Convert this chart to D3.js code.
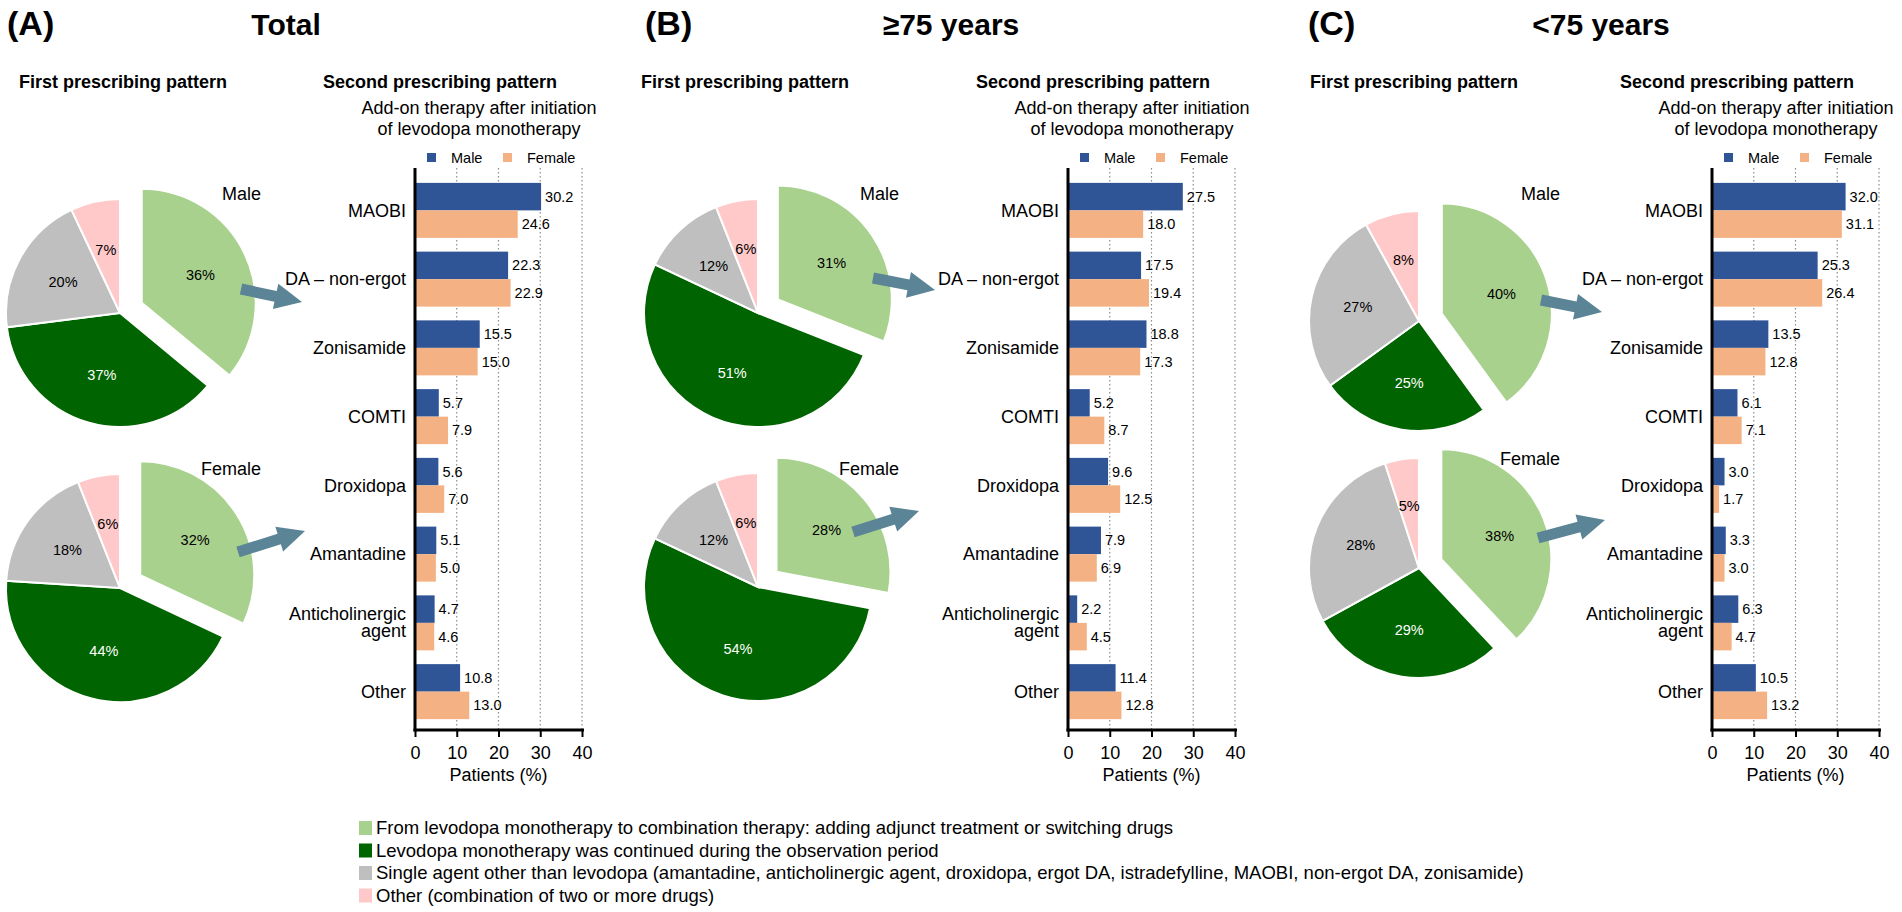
<!DOCTYPE html>
<html>
<head>
<meta charset="utf-8">
<script src="https://cdn.jsdelivr.net/npm/d3@7"></script>
<style>
  body { margin: 0; background: #fff; }
  svg { display: block; font-family: "Liberation Sans", Arial, sans-serif; }
</style>
</head>
<body>
<div id="chart"></div>
<script>
// ---- data ----
const categories = ["MAOBI", "DA – non-ergot", "Zonisamide", "COMTI", "Droxidopa",
  "Amantadine", "Anticholinergic agent", "Other"];
const sexes = ["Male", "Female"];

const totalMale = [30.2, 22.3, 15.5, 5.7, 5.6, 5.1, 4.7, 10.8];
const totalFemale = [24.6, 22.9, 15.0, 7.9, 7.0, 5.0, 4.6, 13.0];
const over75Male = [27.5, 17.5, 18.8, 5.2, 9.6, 7.9, 2.2, 11.4];
const over75Female = [18.0, 19.4, 17.3, 8.7, 12.5, 6.9, 4.5, 12.8];
const under75Male = [32.0, 25.3, 13.5, 6.1, 3.0, 3.3, 6.3, 10.5];
const under75Female = [31.1, 26.4, 12.8, 7.1, 1.7, 3.0, 4.7, 13.2];

// first pattern: combination, continued mono, single other agent, other
const pieTotalMale = [36, 37, 20, 7];
const pieTotalFemale = [32, 44, 18, 6];
const pieOver75Male = [31, 51, 12, 6];
const pieOver75Female = [28, 54, 12, 6];
const pieUnder75Male = [40, 25, 27, 8];
const pieUnder75Female = [38, 29, 28, 5];

const legendLabels = [
  "From levodopa monotherapy to combination therapy: adding adjunct treatment or switching drugs",
  "Levodopa monotherapy was continued during the observation period",
  "Single agent other than levodopa (amantadine, anticholinergic agent, droxidopa, ergot DA, istradefylline, MAOBI, non-ergot DA, zonisamide)",
  "Other (combination of two or more drugs)"
];
const xTicks = [0, 10, 20, 30, 40];
const panelLetters = ["(A)", "(B)", "(C)"];
const panelTitles = ["Total", "≥75 years", "<75 years"];

// ---- styles / layout ----
const pieColors = ["#a9d18e", "#006400", "#bfbfbf", "#ffc9c9"];
const barColors = { Male: "#2f5597", Female: "#f4b183" };
const arrowColor = "#5b8597";

const panels = [
  { letterX: 7, titleX: 286, subX: 123, cx: 120, cy: [313, 588], r: 114, sexY: [200, 475], axisX: 415,
    bars: [totalMale, totalFemale], pies: [pieTotalMale, pieTotalFemale],
    arrows: [[241, 289, 302, 302], [238, 552, 305, 531]] },
  { letterX: 645, titleX: 951, subX: 745, cx: 758, cy: [313, 587], r: 114, sexY: [200, 475], axisX: 1068,
    bars: [over75Male, over75Female], pies: [pieOver75Male, pieOver75Female],
    arrows: [[873, 278, 935, 290], [853, 532, 919, 511]] },
  { letterX: 1308, titleX: 1601, subX: 1414, cx: 1419, cy: [321, 568], r: 110, sexY: [200, 465], axisX: 1712,
    bars: [under75Male, under75Female], pies: [pieUnder75Male, pieUnder75Female],
    arrows: [[1541, 300, 1602, 312], [1538, 538, 1605, 520]] }
];

const width = 1902, height = 912;
const plotTop = 168, plotBottom = 730;

const svg = d3.select("#chart").append("svg")
  .attr("width", width)
  .attr("height", height);

svg.append("rect").attr("width", width).attr("height", height).attr("fill", "#fff");

function arrowPath(x1, y1, x2, y2) {
  const len = Math.hypot(x2 - x1, y2 - y1);
  const ux = (x2 - x1) / len, uy = (y2 - y1) / len;
  const nx = -uy, ny = ux;
  const headLen = 27, sw = 5.5, hw = 13;
  const bx = x2 - ux * headLen, by = y2 - uy * headLen;
  const p = d3.path();
  p.moveTo(x1 + nx * sw, y1 + ny * sw);
  p.lineTo(bx + nx * sw, by + ny * sw);
  p.lineTo(bx + nx * hw, by + ny * hw);
  p.lineTo(x2, y2);
  p.lineTo(bx - nx * hw, by - ny * hw);
  p.lineTo(bx - nx * sw, by - ny * sw);
  p.lineTo(x1 - nx * sw, y1 - ny * sw);
  p.closePath();
  return p.toString();
}

panels.forEach((pn, pi) => {
  const g = svg.append("g");

  // titles
  g.append("text").attr("x", pn.letterX).attr("y", 35)
    .attr("font-size", 34).attr("font-weight", "bold").text(panelLetters[pi]);
  g.append("text").attr("x", pn.titleX).attr("y", 35).attr("text-anchor", "middle")
    .attr("font-size", 30).attr("font-weight", "bold").text(panelTitles[pi]);
  g.append("text").attr("x", pn.subX).attr("y", 88).attr("text-anchor", "middle")
    .attr("font-size", 18).attr("font-weight", "bold").text("First prescribing pattern");
  g.append("text").attr("x", pn.axisX + 25).attr("y", 88).attr("text-anchor", "middle")
    .attr("font-size", 18).attr("font-weight", "bold").text("Second prescribing pattern");
  g.append("text").attr("x", pn.axisX + 64).attr("y", 114).attr("text-anchor", "middle")
    .attr("font-size", 18).text("Add-on therapy after initiation");
  g.append("text").attr("x", pn.axisX + 64).attr("y", 135).attr("text-anchor", "middle")
    .attr("font-size", 18).text("of levodopa monotherapy");

  // ---- pies ----
  const pie = d3.pie().sort(null).value(d => d);
  const arc = d3.arc().innerRadius(0).outerRadius(pn.r);
  const labelArc = d3.arc().innerRadius(pn.r * 0.57).outerRadius(pn.r * 0.57);

  pn.pies.forEach((vals, si) => {
    const pg = g.append("g").attr("transform", `translate(${pn.cx},${pn.cy[si]})`);
    const slices = pg.selectAll("g.slice").data(pie(vals)).enter().append("g")
      .attr("class", "slice")
      .attr("transform", (d, i) => {
        if (i !== 0) return null;
        const mid = (d.startAngle + d.endAngle) / 2;
        return `translate(${Math.sin(mid) * 24},${-Math.cos(mid) * 24})`;
      });
    slices.append("path")
      .attr("d", arc)
      .attr("fill", (d, i) => pieColors[i])
      .attr("stroke", "#fff")
      .attr("stroke-width", 2);
    slices.append("text")
      .attr("transform", d => `translate(${labelArc.centroid(d)})`)
      .attr("text-anchor", "middle")
      .attr("dominant-baseline", "central")
      .attr("font-size", 14.5)
      .attr("fill", (d, i) => i === 1 ? "#fff" : "#000")
      .text(d => d.data + "%");

    g.append("text").attr("x", pn.cx + 141).attr("y", pn.sexY[si])
      .attr("text-anchor", "end").attr("font-size", 18).text(sexes[si]);

    const a = pn.arrows[si];
    g.append("path").attr("d", arrowPath(a[0], a[1], a[2], a[3])).attr("fill", arrowColor);
  });

  // ---- bars ----
  const x = d3.scaleLinear().domain([0, 40]).range([pn.axisX, pn.axisX + 167]);
  const y = d3.scaleBand().domain(categories).range([176, 726]).paddingInner(0.2).paddingOuter(0.1);
  const ySub = d3.scaleBand().domain(sexes).range([0, y.bandwidth()]);

  // dotted grid
  g.append("g").selectAll("line").data(xTicks.filter(t => t > 0)).enter().append("line")
    .attr("x1", d => x(d)).attr("x2", d => x(d))
    .attr("y1", plotTop).attr("y2", plotBottom)
    .attr("stroke", "#8c8c8c").attr("stroke-width", 1.2)
    .attr("stroke-dasharray", "1.5,2.5");

  const rows = categories.map((c, i) => ({ cat: c, Male: pn.bars[0][i], Female: pn.bars[1][i] }));
  const rowG = g.append("g").selectAll("g").data(rows).enter().append("g")
    .attr("transform", d => `translate(0,${y(d.cat)})`);
  sexes.forEach(s => {
    rowG.append("rect")
      .attr("x", x(0))
      .attr("y", ySub(s))
      .attr("width", d => x(d[s]) - x(0))
      .attr("height", ySub.bandwidth())
      .attr("fill", barColors[s]);
    rowG.append("text")
      .attr("x", d => x(d[s]) + 4)
      .attr("y", ySub(s) + ySub.bandwidth() / 2)
      .attr("dominant-baseline", "central")
      .attr("font-size", 14.5)
      .text(d => d[s].toFixed(1));
  });

  // category labels
  const catText = g.append("g").selectAll("text").data(categories).enter().append("text")
    .attr("x", pn.axisX - 9)
    .attr("y", d => y(d) + y.bandwidth() / 2)
    .attr("text-anchor", "end")
    .attr("font-size", 18);
  catText.each(function (d) {
    const t = d3.select(this);
    const words = d === "Anticholinergic agent" ? ["Anticholinergic", "agent"] : [d];
    words.forEach((w, wi) => {
      t.append("tspan").attr("x", pn.axisX - 9)
        .attr("dy", wi === 0 ? (words.length === 1 ? "0.35em" : "-0.15em") : "0.95em")
        .text(w);
    });
  });

  // axes
  const xAxis = g.append("g").attr("transform", `translate(0,${plotBottom})`)
    .call(d3.axisBottom(x).tickValues(xTicks).tickSize(7).tickSizeOuter(0).tickPadding(9));
  xAxis.select(".domain").attr("stroke", "#000").attr("stroke-width", 3)
    .attr("d", `M${x(0) - 1.5},0H${x(40) + 2}`);
  xAxis.selectAll(".tick line").attr("stroke", "#000").attr("stroke-width", 2);
  xAxis.selectAll(".tick text").attr("font-size", 18).attr("fill", "#000")
    .attr("font-family", "Liberation Sans, Arial, sans-serif");

  g.append("line").attr("x1", x(0)).attr("x2", x(0))
    .attr("y1", plotTop).attr("y2", plotBottom + 1.5)
    .attr("stroke", "#000").attr("stroke-width", 3);

  g.append("text").attr("x", x(20)).attr("y", 781).attr("text-anchor", "middle")
    .attr("font-size", 18).text("Patients (%)");

  // sex legend
  const lg = g.append("g").selectAll("g").data(sexes).enter().append("g")
    .attr("transform", (d, i) => `translate(${pn.axisX + 12 + i * 76},153)`);
  lg.append("rect").attr("width", 9).attr("height", 9).attr("fill", d => barColors[d]);
  lg.append("text").attr("x", 24).attr("y", 10).attr("font-size", 14.5).text(d => d);
});

// ---- bottom legend ----
const leg = svg.append("g").selectAll("g").data(legendLabels).enter().append("g")
  .attr("transform", (d, i) => `translate(359,${834 + i * 22.5})`);
leg.append("rect").attr("y", -13).attr("width", 13).attr("height", 14)
  .attr("fill", (d, i) => pieColors[i]);
leg.append("text").attr("x", 17).attr("font-size", 18.5).text(d => d);
</script>
</body>
</html>
